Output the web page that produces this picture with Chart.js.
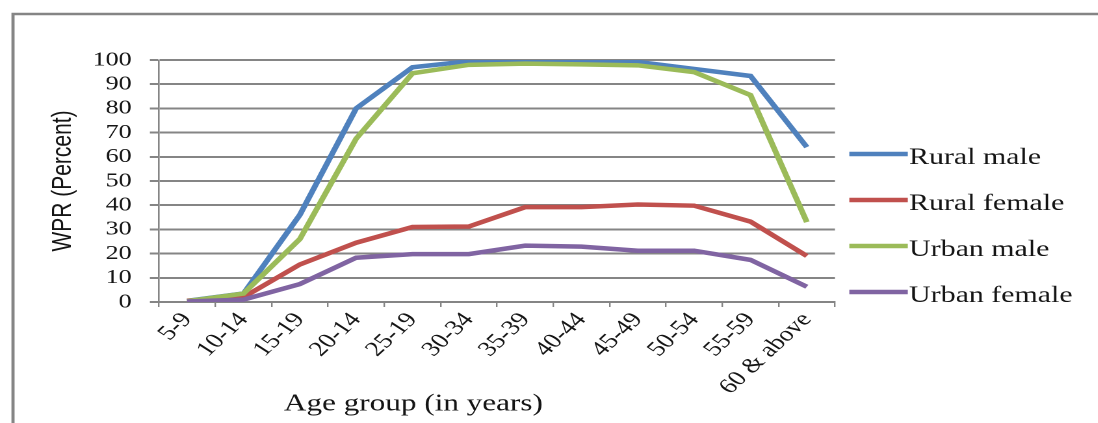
<!DOCTYPE html>
<html lang="en">
<head>
    <meta charset="UTF-8">
    <title>WPR by age group</title>
    <script src="https://cdn.jsdelivr.net/npm/chart.js"></script>
    <style>
        body { margin: 0; background: #fff; overflow: hidden; }
        /* the original picture is stretched sideways, so is this one */
        #wrap { width: 845px; height: 423px; transform: scaleX(1.3); transform-origin: 0 0; }
    </style>
</head>
<body>

<div id="wrap">
    <canvas id="wprChart" width="845" height="423"></canvas>
</div>

<script>
// Data
const ageGroups = ["5-9", "10-14", "15-19", "20-14", "25-19", "30-34", "35-39", "40-44", "45-49", "50-54", "55-59", "60 & above"];
const ruralMale = [0.5, 3.5, 36, 80, 97, 99.5, 99.5, 99.3, 99.2, 96.3, 93.4, 64];
const ruralFemale = [0.5, 2, 15.5, 24.5, 31, 31.2, 39.2, 39.2, 40.3, 39.8, 33.2, 19];
const urbanMale = [0.3, 3.5, 26, 67.5, 94.5, 98, 98.5, 98.2, 97.8, 95, 85.5, 33];
const urbanFemale = [0.2, 1, 7.4, 18.3, 19.8, 19.8, 23.3, 22.9, 21.2, 21.2, 17.4, 6.3];
const yTicks = [0, 10, 20, 30, 40, 50, 60, 70, 80, 90, 100];

const SERIF = "'Liberation Serif', 'Times New Roman', serif";
const GRID = "#858585";
const INK = "#151515";

// Frame, x title and legend drawn by hand
const decorations = {
    id: "decorations",
    beforeDraw(chart) {
        const ctx = chart.ctx;
        ctx.save();
        ctx.strokeStyle = GRID;
        ctx.lineWidth = 2.4;
        ctx.beginPath();
        ctx.moveTo(10, chart.height);
        ctx.lineTo(10, 14);
        ctx.lineTo(chart.width, 14);
        ctx.stroke();
        ctx.restore();
    },
    afterDraw(chart) {
        const ctx = chart.ctx;
        const area = chart.chartArea;
        ctx.save();
        ctx.fillStyle = INK;
        ctx.font = "24px " + SERIF;
        ctx.textAlign = "center";
        ctx.textBaseline = "middle";
        ctx.fillText("Age group (in years)", 318, 404);

        ctx.font = "23px " + SERIF;
        ctx.textAlign = "left";
        chart.data.datasets.forEach((ds, i) => {
            const y = 154 + i * 46;
            ctx.strokeStyle = ds.borderColor;
            ctx.lineWidth = 4.5;
            ctx.beginPath();
            ctx.moveTo(area.right + 11, y);
            ctx.lineTo(area.right + 56, y);
            ctx.stroke();
            ctx.fillText(ds.label, area.right + 57, y + 4);
        });
        ctx.restore();
    }
};

function line(label, data, color, order) {
    return {
        label: label,
        data: data,
        borderColor: color,
        backgroundColor: color,
        borderWidth: 4.5,
        pointRadius: 0,
        tension: 0,
        order: order
    };
}

new Chart(document.getElementById("wprChart"), {
    type: "line",
    data: {
        labels: ageGroups,
        datasets: [
            line("Rural male", ruralMale, "#4f81bd", 4),
            line("Rural female", ruralFemale, "#c0504d", 3),
            line("Urban male", urbanMale, "#9bbb59", 2),
            line("Urban female", urbanFemale, "#8064a2", 1)
        ]
    },
    options: {
        responsive: false,
        animation: false,
        devicePixelRatio: 2,
        layout: { padding: { top: 60, right: 202.7, bottom: 0, left: 0 } },
        plugins: {
            legend: { display: false },
            tooltip: { enabled: false }
        },
        scales: {
            x: {
                offset: true,
                afterFit(scale) { scale.height = 121; },
                grid: {
                    offset: true,
                    drawOnChartArea: false,
                    drawTicks: true,
                    tickLength: 5,
                    color: GRID,
                    lineWidth: 1.2
                },
                border: { display: true, color: GRID, width: 2 },
                ticks: {
                    minRotation: 50,
                    maxRotation: 50,
                    autoSkip: false,
                    padding: 1,
                    color: INK,
                    font: { family: SERIF, size: 21 }
                }
            },
            y: {
                min: 0,
                max: 100,
                afterFit(scale) { scale.width = 122.3; },
                afterBuildTicks(scale) { scale.ticks = yTicks.map(v => ({ value: v })); },
                grid: {
                    color: GRID,
                    lineWidth: 2,
                    tickLength: 7
                },
                border: { display: true, color: GRID, width: 1.3 },
                ticks: {
                    autoSkip: false,
                    padding: 14,
                    color: INK,
                    font: { family: SERIF, size: 20 }
                },
                title: {
                    display: true,
                    text: "WPR (Percent)",
                    color: INK,
                    font: { family: "'Liberation Sans', Arial, sans-serif", size: 21 },
                    padding: { top: 36, bottom: 0 }
                }
            }
        }
    },
    plugins: [decorations]
});
</script>
</body>
</html>
